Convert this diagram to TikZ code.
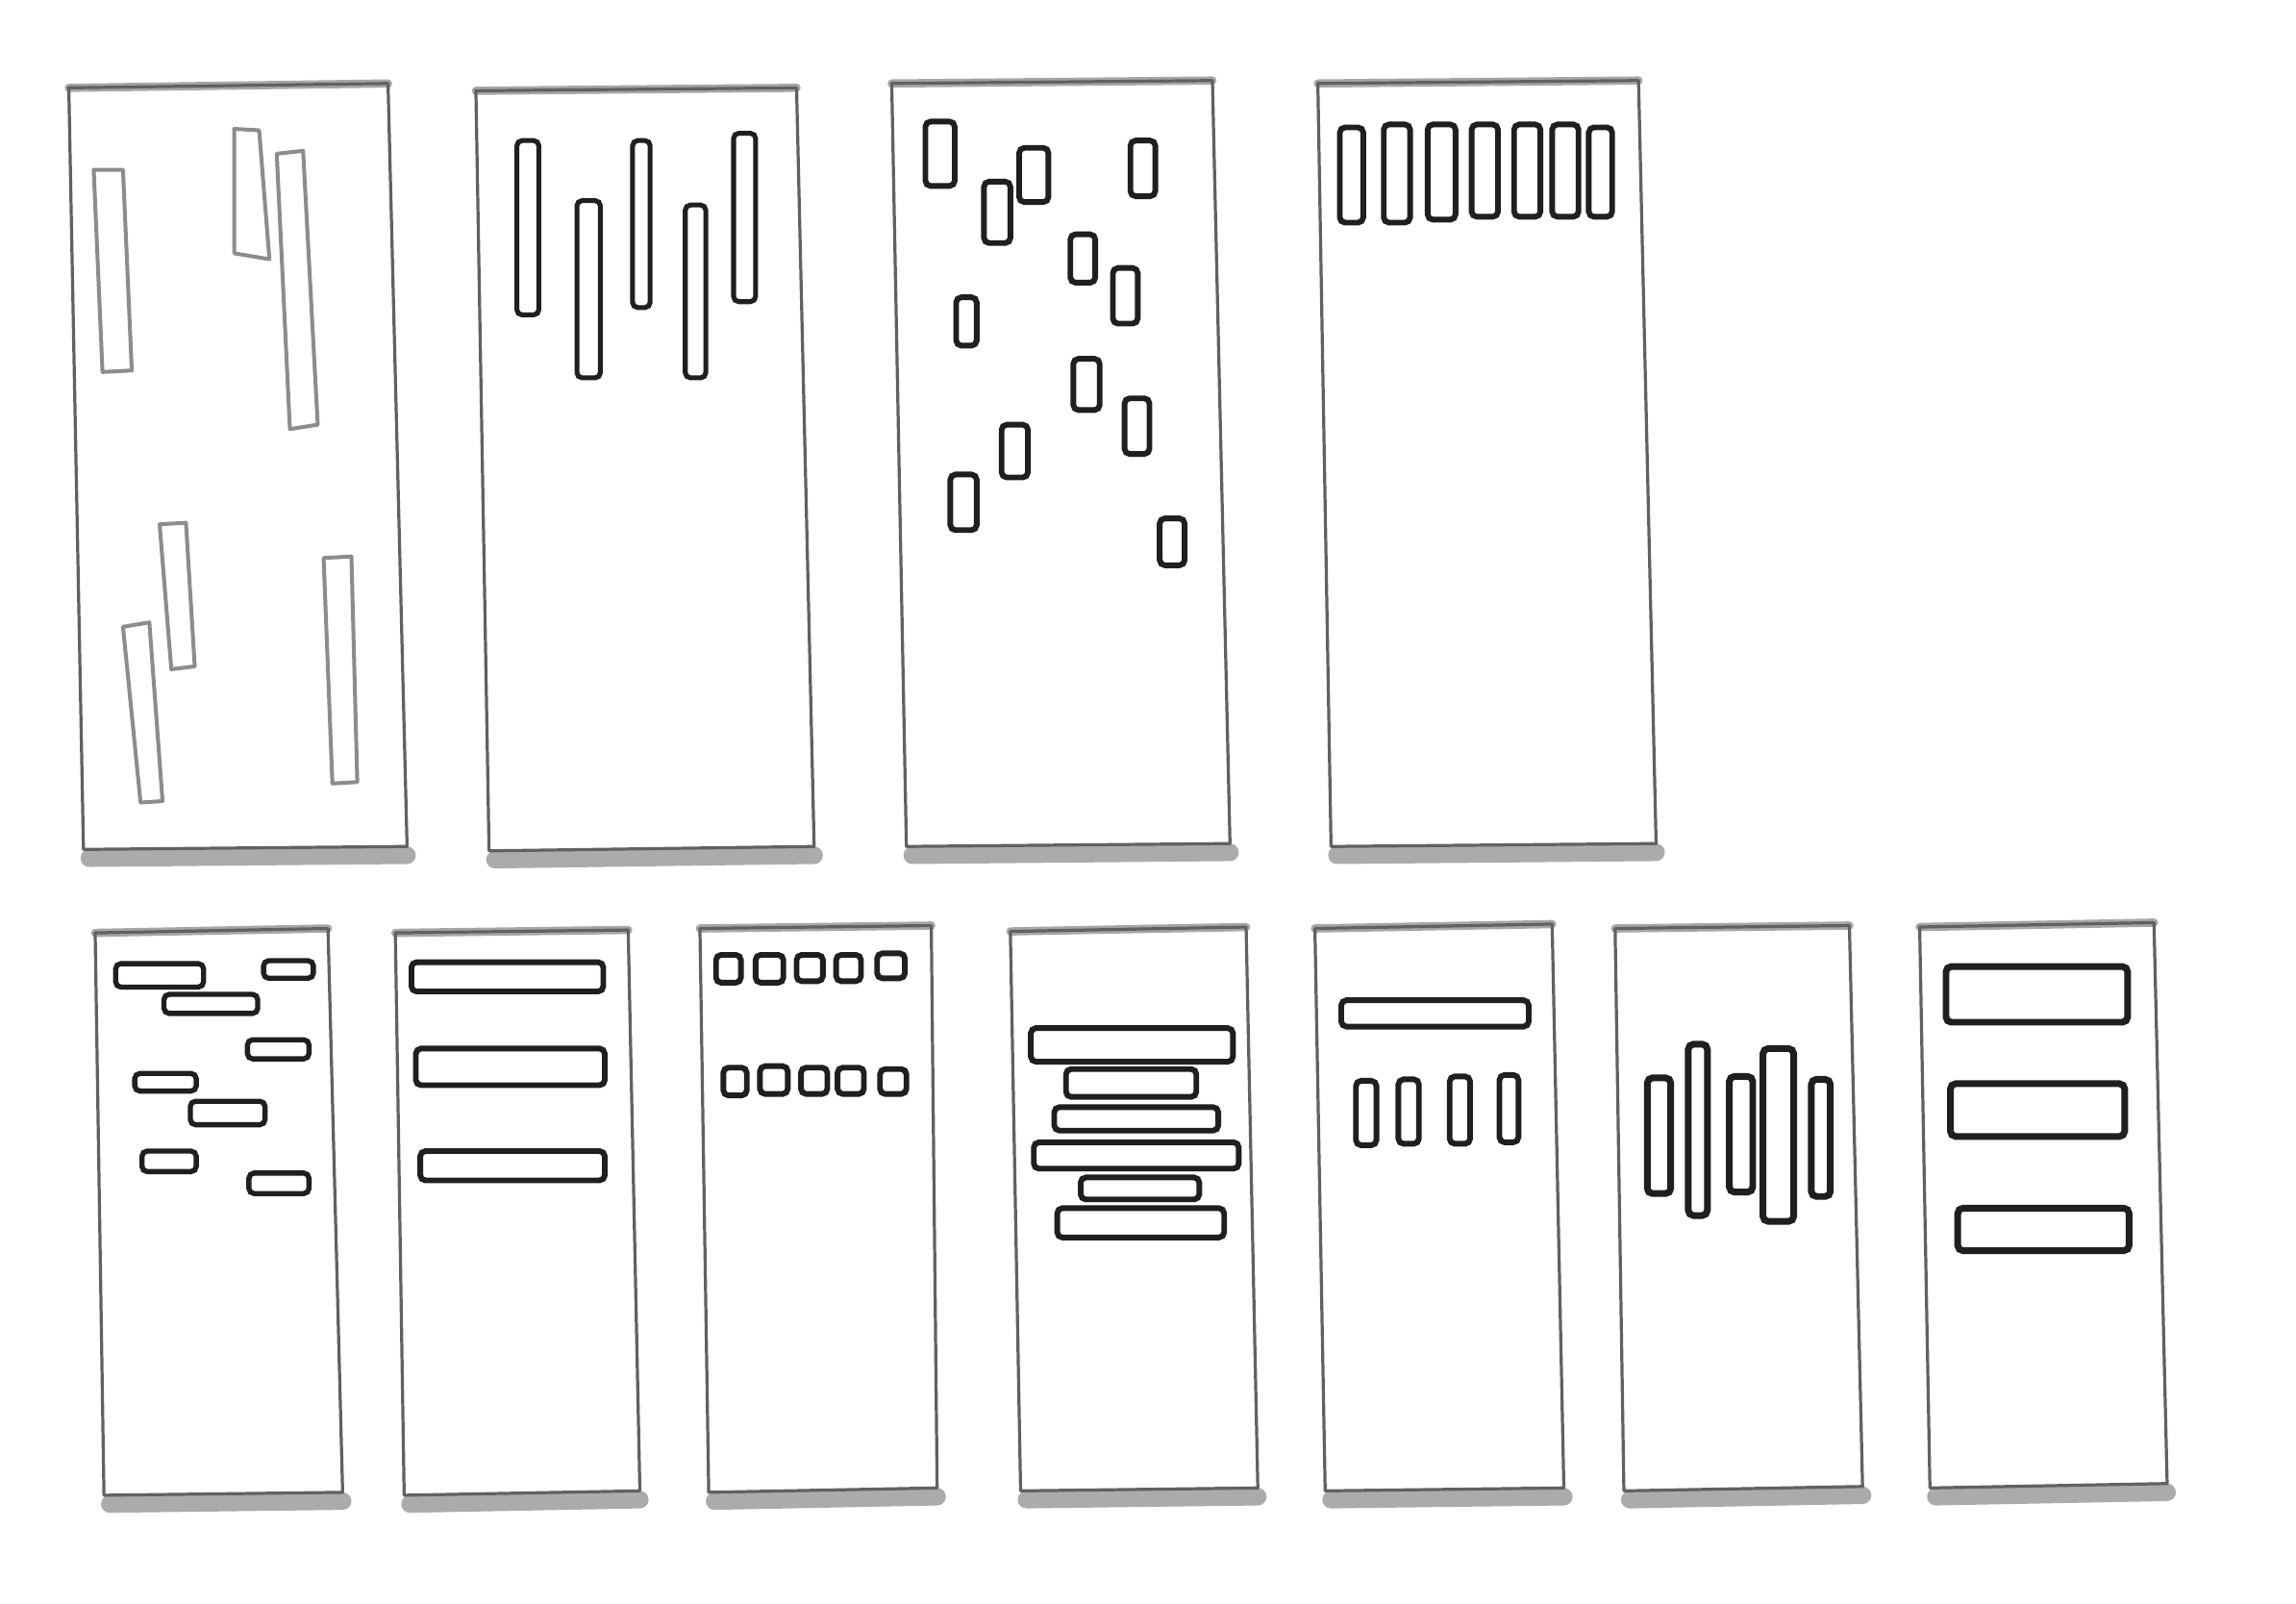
\documentclass[tikz,border=0pt]{standalone}
\usetikzlibrary{calc}
\tikzset{
  frame/.style = {
    draw=black!62, line width=.6pt, line join=round
  },
  rim/.style = {
    draw=black!35, line width=1.6pt, line cap=round
  },
  shadow/.style = {
    draw=black!33, line width=3.4pt, line cap=round
  },
  block/.style = {
    draw=black!88, line width=1.1pt, rounded corners=1pt
  },
  faint/.style = {
    draw=black!45, line width=.75pt, line join=round
  }
}

\begin{document}
\begin{tikzpicture}[x=.01cm, y=-.01cm]
    \useasboundingbox[fill=white] (0,0) rectangle (1568,1095);
    % les coins des cadres
    \path
      (47,60)    coordinate (P1-tl)  (265,57)   coordinate (P1-tr)
      (278,578)  coordinate (P1-br)  (57,580)   coordinate (P1-bl)
      (325,62)   coordinate (P2-tl)  (544,60)   coordinate (P2-tr)
      (556,578)  coordinate (P2-br)  (334,581)  coordinate (P2-bl)
      (609,57)   coordinate (P3-tl)  (828,55)   coordinate (P3-tr)
      (840,576)  coordinate (P3-br)  (619,578)  coordinate (P3-bl)
      (900,57)   coordinate (P4-tl)  (1119,55)  coordinate (P4-tr)
      (1131,576) coordinate (P4-br)  (909,578)  coordinate (P4-bl)
      (65,637)   coordinate (P5-tl)  (224,634)  coordinate (P5-tr)
      (234,1019) coordinate (P5-br)  (71,1021)  coordinate (P5-bl)
      (270,637)  coordinate (P6-tl)  (429,635)  coordinate (P6-tr)
      (437,1018) coordinate (P6-br)  (276,1021) coordinate (P6-bl)
      (478,634)  coordinate (P7-tl)  (636,632)  coordinate (P7-tr)
      (640,1016) coordinate (P7-br)  (484,1019) coordinate (P7-bl)
      (690,636)  coordinate (P8-tl)  (851,633)  coordinate (P8-tr)
      (859,1016) coordinate (P8-br)  (697,1018) coordinate (P8-bl)
      (898,634)  coordinate (P9-tl)  (1060,631) coordinate (P9-tr)
      (1068,1016) coordinate (P9-br) (905,1018) coordinate (P9-bl)
      (1103,634) coordinate (P10-tl) (1263,632) coordinate (P10-tr)
      (1272,1015) coordinate (P10-br) (1109,1018) coordinate (P10-bl)
      (1311,633) coordinate (P11-tl) (1471,630) coordinate (P11-tr)
      (1480,1013) coordinate (P11-br) (1318,1016) coordinate (P11-bl)
    ;
    % les cadres
    \foreach \i in {1,...,11}{
      \draw[shadow] ($(P\i-bl)+(4,6)$) -- ($(P\i-br)+(0,6)$);
      \draw[rim] (P\i-tl) -- (P\i-tr);
      \draw[frame] (P\i-tl) -- (P\i-tr) -- (P\i-br) -- (P\i-bl) -- cycle;
    }
    % cadre 1
    \path[faint]
      (64,116) -- (84,116) -- (90,253) -- (70,254) -- cycle
      (160,88) -- (177,89) -- (184,177) -- (160,173) -- cycle
      (189,105) -- (207,103) -- (217,290) -- (198,293) -- cycle
      (109,358) -- (127,357) -- (133,455) -- (117,457) -- cycle
      (84,428) -- (102,425) -- (111,547) -- (96,548) -- cycle
      (221,381) -- (240,380) -- (244,534) -- (227,535) -- cycle
    ;
    % cadre 2
    \path[block, line width=.95pt]
      (353,96) rectangle (368,215)
      (394,137) rectangle (410,258)
      (432,96) rectangle (444,210)
      (468,140) rectangle (482,258)
      (501,91) rectangle (516,206)
    ;
    % cadre 3
    \path[block]
      (632,83) rectangle (652,127)
      (672,124) rectangle (690,166)
      (696,101) rectangle (716,138)
      (772,96) rectangle (789,134)
      (731,160) rectangle (748,193)
      (760,183) rectangle (777,221)
      (653,203) rectangle (667,236)
      (733,245) rectangle (751,280)
      (768,272) rectangle (785,310)
      (684,290) rectangle (702,326)
      (649,324) rectangle (667,362)
      (792,354) rectangle (809,386)
    ;
    % cadre 4
    \path[block]
      (915,87) rectangle (931,152)
      (945,85) rectangle (963,152)
      (975,85) rectangle (994,150)
      (1005,85) rectangle (1023,148)
      (1034,85) rectangle (1052,148)
      (1060,85) rectangle (1078,148)
      (1085,87) rectangle (1101,148)
    ;
    % cadre 5
    \path[block, line width=1pt]
      (79,658) rectangle (139,674)
      (180,656) rectangle (214,668)
      (112,679) rectangle (176,692)
      (169,710) rectangle (211,723)
      (92,733) rectangle (134,745)
      (130,752) rectangle (181,768)
      (97,786) rectangle (134,800)
      (170,801) rectangle (211,815)
    ;
    % cadre 6
    \path[block]
      (281,657) rectangle (412,677)
      (284,716) rectangle (413,741)
      (287,786) rectangle (413,806)
    ;
    % cadre 7
    \path[block]
      (489,652) rectangle (506,671)
      (516,652) rectangle (535,671)
      (544,652) rectangle (562,670)
      (571,652) rectangle (588,670)
      (599,651) rectangle (618,668)
      (494,729) rectangle (510,748)
      (519,728) rectangle (538,747)
      (547,729) rectangle (565,747)
      (572,729) rectangle (590,747)
      (601,730) rectangle (619,747)
    ;
    % cadre 8
    \path[block]
      (704,702) rectangle (842,725)
      (728,730) rectangle (817,749)
      (720,756) rectangle (832,772)
      (706,780) rectangle (846,798)
      (738,804) rectangle (819,819)
      (722,825) rectangle (836,845)
    ;
    % cadre 9
    \path[block]
      (916,683) rectangle (1044,701)
      (926,738) rectangle (940,782)
      (955,737) rectangle (969,781)
      (990,735) rectangle (1004,781)
      (1024,734) rectangle (1037,780)
    ;
    % cadre 10
    \path[block, line width=1.3pt]
      (1125,736) rectangle (1141,815)
      (1153,713) rectangle (1166,830)
      (1181,735) rectangle (1197,814)
      (1204,716) rectangle (1225,834)
      (1237,737) rectangle (1250,817)
    ;
    % cadre 11
    \path[block, line width=1.3pt]
      (1329,660) rectangle (1453,698)
      (1332,740) rectangle (1451,776)
      (1337,825) rectangle (1454,854)
    ;
  \end{tikzpicture}
\end{document}
